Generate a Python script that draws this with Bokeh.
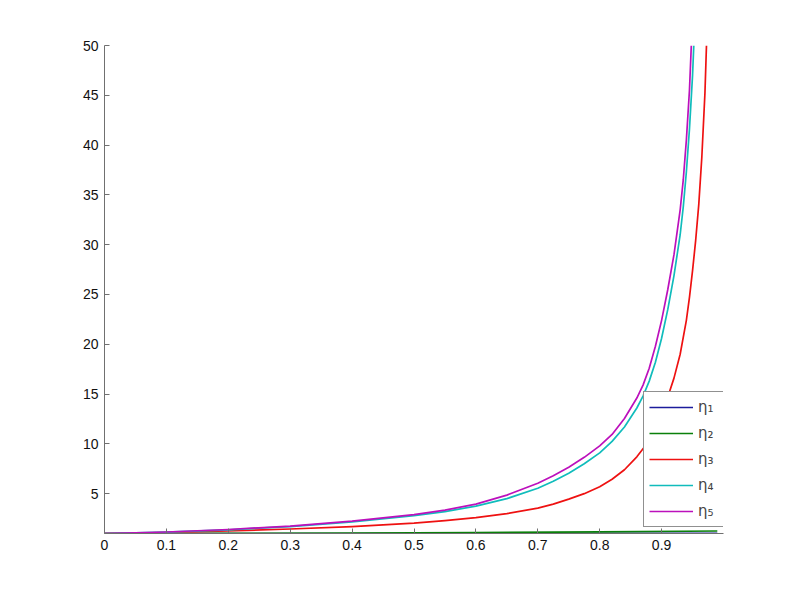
from bokeh.plotting import figure
from bokeh.models import Range1d, FixedTicker, Legend, LegendItem
from bokeh.embed import file_html
from bokeh.resources import INLINE

# ---- data ----
x1 = [0.0, 0.2, 0.4, 0.6, 0.8, 0.99]
eta1 = [1.0, 1.0, 1.0, 1.01, 1.01, 1.02]

x2 = [0.0, 0.2, 0.4, 0.6, 0.8, 0.99]
eta2 = [1.0, 1.02, 1.05, 1.1, 1.17, 1.25]

x3 = [0.0, 0.1, 0.2, 0.3, 0.4, 0.5, 0.55, 0.6, 0.65, 0.7, 0.725, 0.75, 0.775, 0.8,
      0.82, 0.84, 0.86, 0.87, 0.88, 0.89, 0.9, 0.91, 0.92, 0.93, 0.94, 0.945,
      0.95, 0.955, 0.96, 0.965, 0.97, 0.9725]
eta3 = [1.0, 1.1, 1.25, 1.45, 1.7, 2.05, 2.3, 2.6, 3.0, 3.55, 3.95, 4.45, 5.0, 5.7,
        6.45, 7.4, 8.7, 9.5, 10.5, 11.7, 13.1, 14.7, 16.6, 19.0, 22.4, 24.7,
        27.4, 30.4, 34.0, 38.8, 45.2, 50.0]

x4 = [0.0, 0.1, 0.2, 0.3, 0.4, 0.5, 0.55, 0.6, 0.65, 0.7, 0.725, 0.75, 0.775, 0.8,
      0.82, 0.84, 0.86, 0.87, 0.88, 0.89, 0.9, 0.91, 0.92, 0.93, 0.935, 0.94,
      0.945, 0.95, 0.952]
eta4 = [1.0, 1.14, 1.37, 1.7, 2.17, 2.8, 3.2, 3.75, 4.5, 5.55, 6.25, 7.05, 8.0, 9.1,
        10.25, 11.7, 13.6, 14.8, 16.3, 18.2, 20.6, 23.5, 26.9, 31.0, 33.8, 37.3,
        41.6, 47.0, 50.0]

x5 = [0.0, 0.1, 0.2, 0.3, 0.4, 0.5, 0.55, 0.6, 0.65, 0.7, 0.725, 0.75, 0.775, 0.8,
      0.82, 0.84, 0.86, 0.87, 0.88, 0.89, 0.9, 0.91, 0.92, 0.93, 0.935, 0.94,
      0.945, 0.948]
eta5 = [1.0, 1.15, 1.4, 1.75, 2.25, 2.9, 3.35, 3.95, 4.85, 6.05, 6.8, 7.65, 8.65, 9.8,
        10.95, 12.55, 14.6, 15.9, 17.6, 19.8, 22.4, 25.5, 29.0, 33.5, 36.5, 40.5,
        45.5, 50.0]

labels = ["η₁", "η₂", "η₃", "η₄", "η₅"]
colors = ["#1c1c9c", "#0a800a", "#ee1111", "#10bcbc", "#bc10bc"]

x_ticks = [0, 0.1, 0.2, 0.3, 0.4, 0.5, 0.6, 0.7, 0.8, 0.9]
y_ticks = [5, 10, 15, 20, 25, 30, 35, 40, 45, 50]

p = figure(width=790, height=590, output_backend="svg", toolbar_location=None,
           x_range=Range1d(0, 1), y_range=Range1d(1, 50))
p.min_border_left = 104
p.min_border_right = 67
p.min_border_top = 45
p.min_border_bottom = 57
p.outline_line_color = None
p.background_fill_color = "white"
p.border_fill_color = "white"
p.xgrid.visible = False
p.ygrid.visible = False

for ax in (p.xaxis[0], p.yaxis[0]):
    ax.axis_line_color = "#707070"
    ax.major_tick_line_color = "#707070"
    ax.major_tick_in = 5
    ax.major_tick_out = 0
    ax.minor_tick_line_color = None
    ax.major_label_text_font = "Liberation Sans"
    ax.major_label_text_font_size = "14px"
    ax.major_label_text_color = "#111111"
p.xaxis.ticker = FixedTicker(ticks=x_ticks)
p.yaxis.ticker = FixedTicker(ticks=y_ticks)
p.xaxis.major_label_overrides = {0: "0"}
p.xaxis.major_label_standoff = 6
p.yaxis.major_label_standoff = 6

xs = [x1, x2, x3, x4, x5]
ys = [eta1, eta2, eta3, eta4, eta5]
renderers = []
for xx, yy, c in zip(xs, ys, colors):
    r = p.line(xx, yy, line_color=c, line_width=1.7, line_join="round")
    renderers.append(r)

legend = Legend(items=[LegendItem(label=l, renderers=[r]) for l, r in zip(labels, renderers)],
                location=(539, 6))
legend.border_line_color = "#222222"
legend.border_line_width = 1
legend.background_fill_color = "white"
legend.background_fill_alpha = 1
legend.padding = 5
legend.spacing = 6
legend.margin = 0
legend.label_height = 20
legend.glyph_height = 20
legend.glyph_width = 44
legend.label_standoff = 5
legend.label_text_font = "DejaVu Sans"
legend.label_text_font_size = "15px"
p.add_layout(legend, "center")

open("out.html", "w").write(file_html(p, INLINE))
